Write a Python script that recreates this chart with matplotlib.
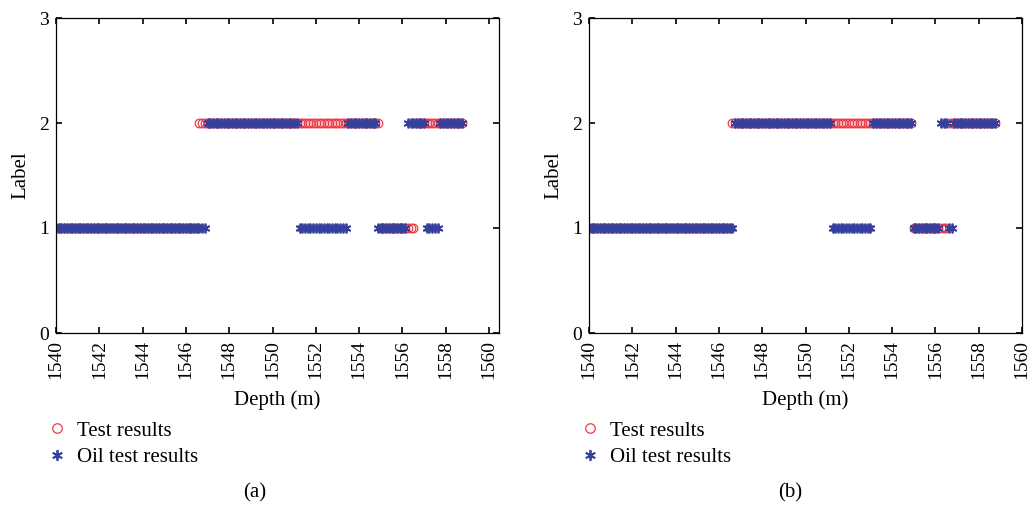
import numpy as np
import matplotlib
matplotlib.use("Agg")
import matplotlib.pyplot as plt

plt.rcParams['font.family'] = ['Liberation Serif', 'DejaVu Serif']

STEP = 0.125  # depth sampling interval (m)

# ---- panel (a) segments: start depth, end depth, label ----
a_test_start = [1540.0, 1546.625, 1555.0, 1556.625]
a_test_end = [1546.5, 1554.875, 1556.5, 1558.75]
a_test_label = [1, 2, 1, 2]

a_oil_start = [1540.0, 1547.0, 1551.25, 1553.5, 1554.875, 1556.25, 1557.125, 1557.75]
a_oil_end = [1546.875, 1551.125, 1553.375, 1554.75, 1556.125, 1557.0, 1557.625, 1558.75]
a_oil_label = [1, 2, 1, 2, 1, 2, 1, 2]

# ---- panel (b) segments ----
b_test_start = [1540.0, 1546.625, 1555.0, 1556.625]
b_test_end = [1546.5, 1554.875, 1556.5, 1558.75]
b_test_label = [1, 2, 1, 2]

b_oil_start = [1540.0, 1546.75, 1551.25, 1553.125, 1555.0, 1556.25, 1556.625, 1556.875]
b_oil_end = [1546.625, 1551.125, 1553.0, 1554.875, 1556.125, 1556.5, 1556.75, 1558.75]
b_oil_label = [1, 2, 1, 2, 1, 2, 1, 2]

x_ticks = [1540, 1542, 1544, 1546, 1548, 1550, 1552, 1554, 1556, 1558, 1560]
y_ticks = [0, 1, 2, 3]
series_names = ["Test results", "Oil test results"]
captions = ["(a)", "(b)"]


def expand(starts, ends, labels):
    d, l = [], []
    for s, e, lab in zip(starts, ends, labels):
        n = int(round((e - s) / STEP)) + 1
        dd = s + STEP * np.arange(n)
        d.extend(dd)
        l.extend([lab] * n)
    return np.array(d), np.array(l)


W, H = 1029, 507
fig = plt.figure(figsize=(W / 100, H / 100), dpi=100)

RED = '#ee3a48'
BLUE = '#353f9c'
FS = 14
LFS = 15

panels = [
    dict(left=56, right=499, xmax=1560.46,
         test=(a_test_start, a_test_end, a_test_label),
         oil=(a_oil_start, a_oil_end, a_oil_label), cap_x=255),
    dict(left=589, right=1022, xmax=1560.0,
         test=(b_test_start, b_test_end, b_test_label),
         oil=(b_oil_start, b_oil_end, b_oil_label), cap_x=790),
]

top, bottom = 18, 333
for i, p in enumerate(panels):
    ax = fig.add_axes([p['left'] / W, 1 - bottom / H,
                       (p['right'] - p['left']) / W, (bottom - top) / H])
    td, tl = expand(*p['test'])
    od, ol = expand(*p['oil'])
    ax.plot(td, tl, linestyle='none', marker='o', markersize=6.2,
            markerfacecolor='none', markeredgecolor=RED, markeredgewidth=0.9,
            label=series_names[0])
    ax.plot(od, ol, linestyle='none', marker=(6, 2, 0), markersize=7,
            markeredgecolor=BLUE, markerfacecolor=BLUE, markeredgewidth=1.3,
            label=series_names[1])
    ax.set_xlim(1540, p['xmax'])
    ax.set_ylim(0, 3)
    ax.set_xticks(x_ticks)
    ax.set_yticks(y_ticks)
    ax.tick_params(direction='in', top=True, right=True, length=4, width=1.2,
                   labelsize=FS, pad=5)
    ax.tick_params(axis='x', labelrotation=90)
    for s in ax.spines.values():
        s.set_linewidth(0.9)
    ax.set_xlabel('Depth (m)', fontsize=LFS, labelpad=8)
    ax.set_ylabel('Label', fontsize=LFS, labelpad=6)
    ax.legend(loc='upper left',
              bbox_to_anchor=(-9 / (p['right'] - p['left']),
                              -(421 - bottom) / (bottom - top)),
              frameon=False, fontsize=LFS, handlelength=1.0,
              handletextpad=0.45, borderaxespad=0, borderpad=0,
              labelspacing=0.35, markerscale=1.1)
    fig.text(p['cap_x'] / W, 1 - 493 / H, captions[i], fontsize=LFS,
             ha='center', va='center')

fig.savefig('out.png', dpi=100)
